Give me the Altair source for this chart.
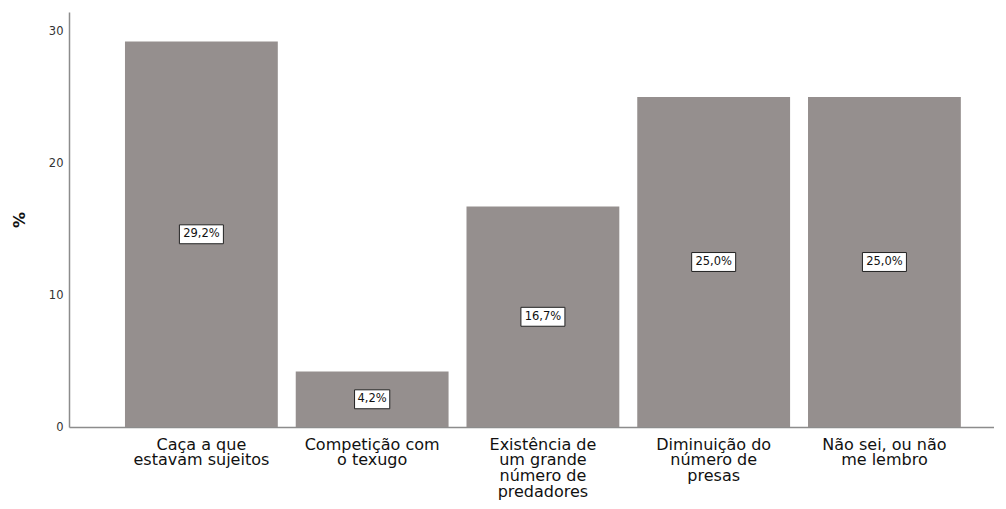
import altair as alt
import pandas as pd

categories = [
    "Caça a que\nestavam sujeitos",
    "Competição com\no texugo",
    "Existência de\num grande\nnúmero de\npredadores",
    "Diminuição do\nnúmero de\npresas",
    "Não sei, ou não\nme lembro",
]
values = [29.2, 4.2, 16.7, 25.0, 25.0]

df = pd.DataFrame({"cat": categories, "pct": values})

box5 = "M-1,-0.43L1,-0.43L1,0.43L-1,0.43Z"
box4 = "M-0.8,-0.43L0.8,-0.43L0.8,0.43L-0.8,0.43Z"

x = alt.X(
    "cat:N",
    sort=categories,
    title=None,
    scale=alt.Scale(paddingInner=0.105, paddingOuter=0.261, align=0.628),
    axis=alt.Axis(
        labelAngle=0,
        labelExpr="split(datum.label, '\\n')",
        labelFont="DejaVu Sans",
        labelFontSize=16,
        labelLineHeight=15.7,
        labelColor="#111",
        labelPadding=9,
        labelLimit=0,
        labelOverlap=False,
        ticks=False,
        domainColor="#8c8c8c",
        domainWidth=1.5,
        labelBaseline="top",
    ),
)

base = alt.Chart(df).encode(x=x)

bars = base.mark_bar(color="#958f8e").encode(
    y=alt.Y(
        "pct:Q",
        title="%",
        scale=alt.Scale(domain=[0, 31.44], nice=False),
        axis=alt.Axis(
            values=[0, 10, 20, 30],
            grid=False,
            ticks=False,
            labelFont="DejaVu Sans",
            labelFontSize=11.5,
            labelColor="#333",
            labelPadding=6,
            domainColor="#8c8c8c",
            domainWidth=1.5,
            titleFont="DejaVu Sans",
            titleFontSize=16,
            titleFontWeight="bold",
            titleColor="#111",
            titlePadding=21,
        ),
    )
)

lab = base.transform_calculate(
    mid="datum.pct / 2",
    txt="replace(format(datum.pct, '.1f'), '.', ',') + '%'",
    n="length(replace(format(datum.pct, '.1f'), '.', ',') + '%')",
)

boxes = lab.mark_point(filled=True, fill="white", stroke="#222", strokeWidth=1, opacity=1, size=1936).encode(
    y=alt.Y("mid:Q"),
    shape=alt.Shape("n:N", scale=alt.Scale(domain=[4, 5], range=[box4, box5]), legend=None),
)

texts = lab.mark_text(font="DejaVu Sans", fontSize=11.5, color="#111").encode(
    y=alt.Y("mid:Q"),
    text="txt:N",
)

chart = (
    alt.layer(bars, boxes, texts)
    .properties(
        width=925,
        height=415,
        autosize=alt.AutoSizeParams(type="none"),
        padding={"left": 61, "top": 4, "right": 0, "bottom": 76},
        background="white",
    )
    .configure_view(strokeWidth=0, stroke="transparent")
)

chart.save("out.html", embed_options={"renderer": "svg", "actions": False})
